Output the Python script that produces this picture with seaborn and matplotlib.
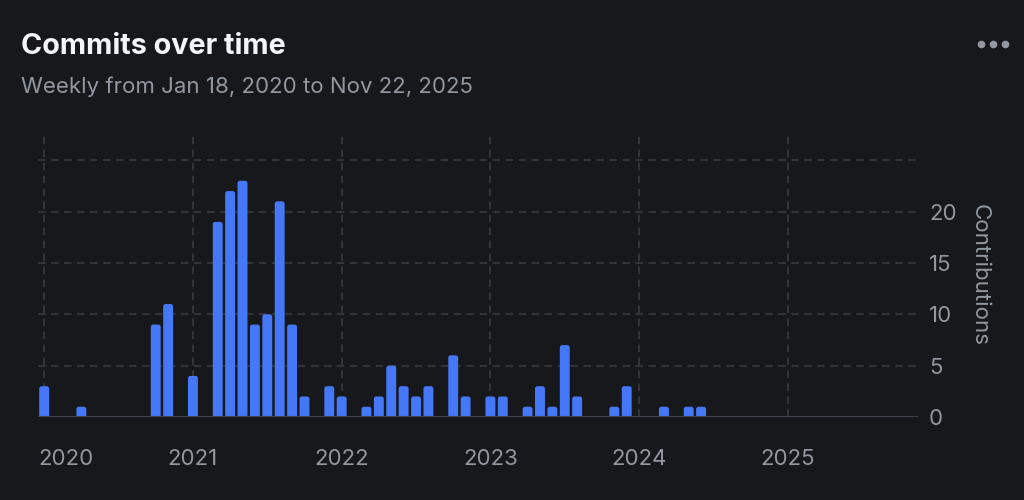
import seaborn as sns
import matplotlib.pyplot as plt
import matplotlib.transforms as mtransforms
from matplotlib.lines import Line2D
from matplotlib.patches import FancyBboxPatch
import pandas as pd

# -----------------------------------------------------------
# datos: commits por mes, ene 2020 .. nov 2025

meses = pd.date_range("2020-01-01", "2025-11-01", freq="MS").strftime("%Y-%m").tolist()

commits = [
    3, 0, 0, 1, 0, 0, 0, 0, 0, 9, 11, 0,        # 2020
    4, 0, 19, 22, 23, 9, 10, 21, 9, 2, 0, 3,    # 2021
    2, 0, 1, 2, 5, 3, 2, 3, 0, 6, 2, 0,         # 2022
    2, 2, 0, 1, 3, 1, 7, 2, 0, 0, 1, 3,         # 2023
    0, 0, 1, 0, 1, 1, 0, 0, 0, 0, 0, 0,         # 2024
    0, 0, 0, 0, 0, 0, 0, 0, 0, 0, 0,            # 2025
]

anios = ["2020", "2021", "2022", "2023", "2024", "2025"]
y_ticks = [0, 5, 10, 15, 20]

titulo = "Commits over time"
subtitulo = "Weekly from Jan 18, 2020 to Nov 22, 2025"

# colores
fondo = "#17181c"
azul = "#4478f7"
gris_txt = "#9198a1"
gris_grid = "#3a3d43"
gris_eje = "#3d444d"

df = pd.DataFrame({"mes": meses, "commits": commits})

sns.set_theme(style="dark")
plt.rcParams["font.family"] = ["Inter", "DejaVu Sans"]

fig = plt.figure(figsize=(10.24, 5), dpi=100, facecolor=fondo)
ax = fig.add_axes([38 / 1024, 1 - 417 / 500, 880 / 1024, 284.5 / 500])
ax.set_facecolor(fondo)

sns.barplot(data=df, x="mes", y="commits", color=azul, width=0.8,
            saturation=1, edgecolor="none", ax=ax)

# barras con esquinas redondeadas arriba
for barra in list(ax.patches):
    h = barra.get_height()
    if h > 0:
        redondeada = FancyBboxPatch((barra.get_x(), -0.5), barra.get_width(), h + 0.5,
                                    boxstyle="round,pad=0,rounding_size=0.2",
                                    mutation_aspect=1.2, facecolor=azul,
                                    edgecolor="none", zorder=2)
        ax.add_patch(redondeada)
    barra.remove()

ax.set_xlim(-0.5, len(meses) - 0.5)
ax.set_ylim(0, 27.7)

# rejilla a mano
for v in [5, 10, 15, 20, 25]:
    ax.axhline(v, color=gris_grid, lw=1.1, ls=(0, (5, 3.5)), zorder=0)
pos_anios = [meses.index(a + "-01") for a in anios]
for p in pos_anios:
    ax.axvline(p, color=gris_grid, lw=1.1, ls=(0, (5, 3.5)), zorder=0)
ax.axhline(0, color=gris_eje, lw=1.5, zorder=3)

for s in ax.spines.values():
    s.set_visible(False)

ax.set_xticks(pos_anios)
ax.set_xticklabels(anios)
ax.tick_params(axis="x", length=0, pad=23, labelsize=16, labelcolor=gris_txt)
# la primera etiqueta pegada al borde izquierdo
etiq0 = ax.get_xticklabels()[0]
etiq0.set_horizontalalignment("left")
etiq0.set_transform(etiq0.get_transform() + mtransforms.ScaledTranslation(-6 / 100, 0, fig.dpi_scale_trans))

ax.yaxis.tick_right()
ax.yaxis.set_label_position("right")
ax.set_yticks(y_ticks)
ax.tick_params(axis="y", length=0, pad=8, labelsize=16, labelcolor=gris_txt)
ax.set_xlabel("")
ax.set_ylabel("Contributions", rotation=270, color=gris_txt, fontsize=16, labelpad=24)

fig.text(21 / 1024, 1 - 54 / 500, titulo, color="#f0f6fc", fontsize=20.7, fontweight="bold")
fig.text(21 / 1024, 1 - 93 / 500, subtitulo, color=gris_txt, fontsize=16)

# menu de tres puntos
fig.add_artist(Line2D([981 / 1024, 993 / 1024, 1005 / 1024], [1 - 44 / 500] * 3,
                      transform=fig.transFigure, marker="o", ls="none",
                      markersize=4.5, color=gris_txt))

fig.savefig("out.png", dpi=100, facecolor=fondo)
